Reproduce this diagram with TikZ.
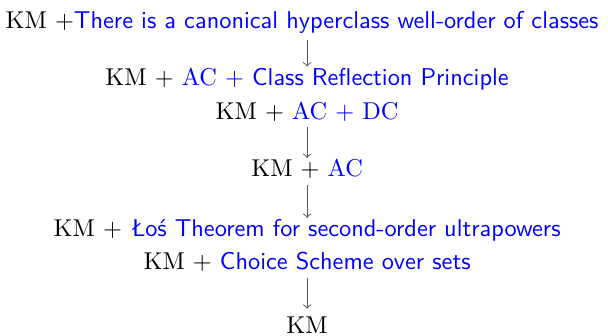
\documentclass[tikz,border=0pt]{standalone}
\usepackage{amsmath}
\usepackage{tikz}

\begin{document}
\begin{tikzpicture}[
    thy/.style={inner sep=0pt, anchor=base},
    arr/.style={->, draw=black!65, shorten <=2.2pt, shorten >=0.4pt}
]
\useasboundingbox (-0.03,-0.03) rectangle (8.75,4.81);
\node[thy] (hyper) at (4.333,4.394) {KM $+$\textcolor{blue}{\textsf{There is a canonical hyperclass well-order of classes}}};
\node[thy] (refl) at (4.405,3.576) {KM $+$ \textcolor{blue}{AC $+$ \textsf{Class Reflection Principle}}};
\node[thy] (dc) at (4.405,3.088) {KM $+$ \textcolor{blue}{AC $+$ DC}};
\node[thy] (ac) at (4.405,2.256) {KM $+$ \textcolor{blue}{AC}};
\node[thy] (los) at (4.405,1.395) {KM $+$ \textcolor{blue}{\textsf{Łoś Theorem for second-order ultrapowers}}};
\node[thy] (choice) at (4.405,0.913) {KM $+$ \textcolor{blue}{\textsf{Choice Scheme over sets}}};
\node[thy] (km) at (4.405,0) {KM};

\draw[arr] (hyper.south -| refl) -- (refl.north);
\draw[arr] (dc.south -| ac) -- (ac.north);
\draw[arr] (ac.south) -- (los.north -| ac);
\draw[arr, shorten >=3pt] (choice.south -| km) -- (km.north);
\end{tikzpicture}
\end{document}
